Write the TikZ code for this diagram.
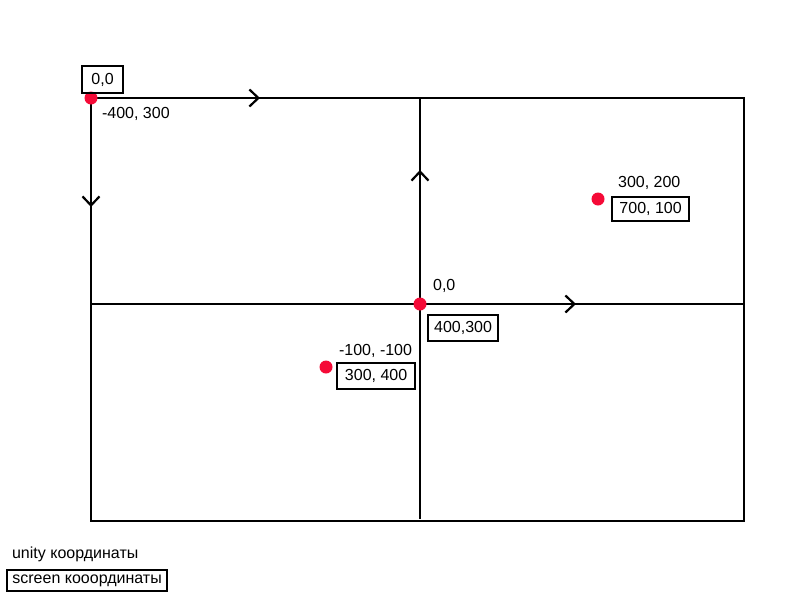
\documentclass[tikz,border=0pt]{standalone}
\usepackage{fontspec}
\setmainfont{Liberation Sans}
\usetikzlibrary{arrows.meta}
\definecolor{dotred}{RGB}{245,10,55}
\begin{document}
\begin{tikzpicture}[x=1pt,y=-1pt, line width=2.2pt,
  every node/.style={font=\fontsize{16}{19}\selectfont},
  lbl/.style={anchor=west,inner sep=0pt},
  boxed/.style={draw,line width=2.2pt,anchor=north west,inner sep=0pt,minimum height=26pt},
  dot/.style={circle,fill=dotred,inner sep=0pt,minimum size=13pt},
  arr/.style={-{Straight Barb[length=9pt,width=17pt]}}]
\useasboundingbox (0,0) rectangle (800,600);
\coordinate (tl) at (91,98);
\coordinate (tr) at (744,98);
\coordinate (br) at (744,521);
\coordinate (bl) at (91,521);
\coordinate (vt) at (420,98);
\coordinate (vb) at (420,519);
\coordinate (hl) at (91,304);
\coordinate (hr) at (744,304);
\coordinate (o) at (420,304);
\coordinate (ta) at (260,98);
\coordinate (la) at (91,207);
\coordinate (va) at (420,170);
\coordinate (ha) at (576,304);
\draw (tl) -- (tr) -- (br) -- (bl) -- cycle;
\draw (hl) -- (hr);
\draw[line width=2pt] (vt) -- (vb);
\draw[arr] (tl) -- (ta);
\draw[arr] (tl) -- (la);
\draw[arr] (o) -- (va);
\draw[arr] (o) -- (ha);
\node[dot] (d1) at (tl) {};
\node[dot] (d2) at (o) {};
\node[dot] (d3) at (326,367) {};
\node[dot] (d4) at (598,199) {};
\node[boxed,minimum width=41pt,minimum height=27pt] (b1) at (81,65) {0,0};
\node[boxed,minimum width=70pt] (b2) at (427,314) {400,300};
\node[boxed,minimum width=78pt] (b3) at (336,362) {300, 400};
\node[boxed,minimum width=77pt,minimum height=24pt] (b4) at (611,196) {700, 100};
\node[boxed,minimum width=160pt,minimum height=21pt] (b5) at (6,569) {screen кооординаты};
\node[lbl] (t1) at (101,114) {-400, 300};
\node[lbl] (t2) at (432,286) {0,0};
\node[lbl] (t3) at (338,351) {-100, -100};
\node[lbl] (t4) at (617,183) {300, 200};
\node[lbl] (t5) at (11,554) {unity координаты};
\end{tikzpicture}
\end{document}
